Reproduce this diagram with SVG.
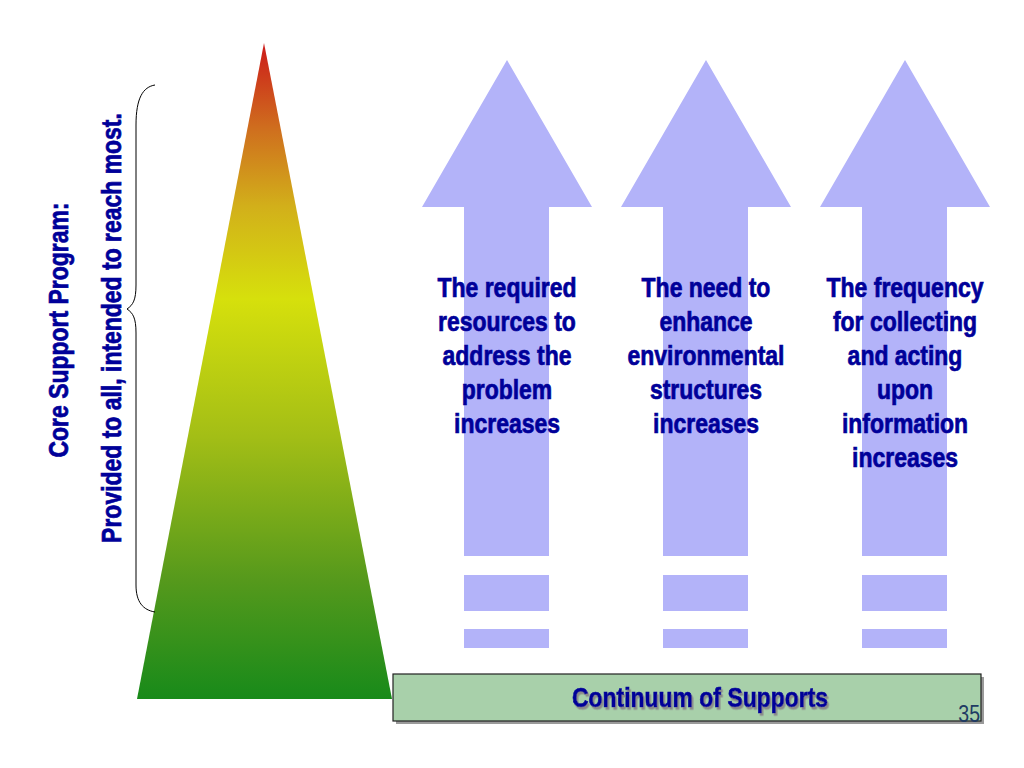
<svg xmlns="http://www.w3.org/2000/svg" width="1024" height="768" viewBox="0 0 1024 768">
  <defs>
    <linearGradient id="triGrad" x1="0" y1="43" x2="0" y2="699" gradientUnits="userSpaceOnUse">
      <stop offset="0" stop-color="#cc1a1a"/>
      <stop offset="0.13" stop-color="#cf6e1e"/>
      <stop offset="0.25" stop-color="#d2b01a"/>
      <stop offset="0.39" stop-color="#d6e00c"/>
      <stop offset="0.6" stop-color="#a3be16"/>
      <stop offset="0.82" stop-color="#55991c"/>
      <stop offset="1" stop-color="#188a1a"/>
    </linearGradient>
    <filter id="txtShadow" x="-10%" y="-30%" width="120%" height="160%">
      <feDropShadow dx="2" dy="2.5" stdDeviation="0" flood-color="#8a8a8a" flood-opacity="1"/>
    </filter>
    <path id="arrowShape" d="M0,0 L85,147 L42,147 L42,496 L-43,496 L-43,147 L-85,147 Z"/>
  </defs>
  <style>
    .lbl { font-family: "Liberation Sans", Arial, sans-serif; font-weight: bold; fill: #000099; stroke: #000099; stroke-width: 0.7px; font-size: 28px; text-anchor: middle; }
    .arrow { fill: #b3b3f9; }
    .dash { fill: #b3b3f9; }
  </style>
  <rect width="1024" height="768" fill="#ffffff"/>

  <g id="pyramid">
    <polygon points="264,43 392,699 137,699" fill="url(#triGrad)"/>
  </g>

  <g id="brace">
    <path d="M155,85 C143,87 136,98 136,125 L136,285 C136,300 133,305 127,309 C133,313 136,318 136,333 L136,585 C136,602 143,610 155,612" fill="none" stroke="#000000" stroke-width="1"/>
  </g>

  <g id="label-core">
    <g transform="translate(68,330) rotate(-90) scale(0.82,1)">
      <text class="lbl" x="0" y="0">Core Support Program:</text>
    </g>
  </g>
  <g id="label-provided">
    <g transform="translate(121,328) rotate(-90) scale(0.82,1)">
      <text class="lbl" x="0" y="0">Provided to all, intended to reach most.</text>
    </g>
  </g>

  <g id="arrow1">
    <use href="#arrowShape" class="arrow" transform="translate(507,60)"/>
    <rect class="dash" x="464" y="575" width="85" height="36"/>
    <rect class="dash" x="464" y="629" width="85" height="19"/>
    <g transform="translate(507,0) scale(0.82,1)">
      <text class="lbl" x="0" y="297">The required</text>
      <text class="lbl" x="0" y="331">resources to</text>
      <text class="lbl" x="0" y="365">address the</text>
      <text class="lbl" x="0" y="399">problem</text>
      <text class="lbl" x="0" y="433">increases</text>
    </g>
  </g>

  <g id="arrow2">
    <use href="#arrowShape" class="arrow" transform="translate(706,60)"/>
    <rect class="dash" x="663" y="575" width="85" height="36"/>
    <rect class="dash" x="663" y="629" width="85" height="19"/>
    <g transform="translate(706,0) scale(0.82,1)">
      <text class="lbl" x="0" y="297">The need to</text>
      <text class="lbl" x="0" y="331">enhance</text>
      <text class="lbl" x="0" y="365">environmental</text>
      <text class="lbl" x="0" y="399">structures</text>
      <text class="lbl" x="0" y="433">increases</text>
    </g>
  </g>

  <g id="arrow3">
    <use href="#arrowShape" class="arrow" transform="translate(905,60)"/>
    <rect class="dash" x="862" y="575" width="85" height="36"/>
    <rect class="dash" x="862" y="629" width="85" height="19"/>
    <g transform="translate(905,0) scale(0.82,1)">
      <text class="lbl" x="0" y="297">The frequency</text>
      <text class="lbl" x="0" y="331">for collecting</text>
      <text class="lbl" x="0" y="365">and acting</text>
      <text class="lbl" x="0" y="399">upon</text>
      <text class="lbl" x="0" y="433">information</text>
      <text class="lbl" x="0" y="467">increases</text>
    </g>
  </g>

  <g id="continuum">
    <rect x="396" y="677" width="588" height="47" fill="#9a9a9a"/>
    <rect x="393" y="674" width="588" height="47" fill="#a8d0aa" stroke="#222222" stroke-width="1.2"/>
    <g transform="translate(700,0) scale(0.82,1)" filter="url(#txtShadow)">
      <text class="lbl" x="0" y="707">Continuum of Supports</text>
    </g>
    <g transform="translate(980,0) scale(0.85,1)">
      <text x="0" y="722" style="font-family:'Liberation Sans', Arial, sans-serif; font-size:23px; fill:#1f3b63; text-anchor:end">35</text>
    </g>
  </g>
</svg>
